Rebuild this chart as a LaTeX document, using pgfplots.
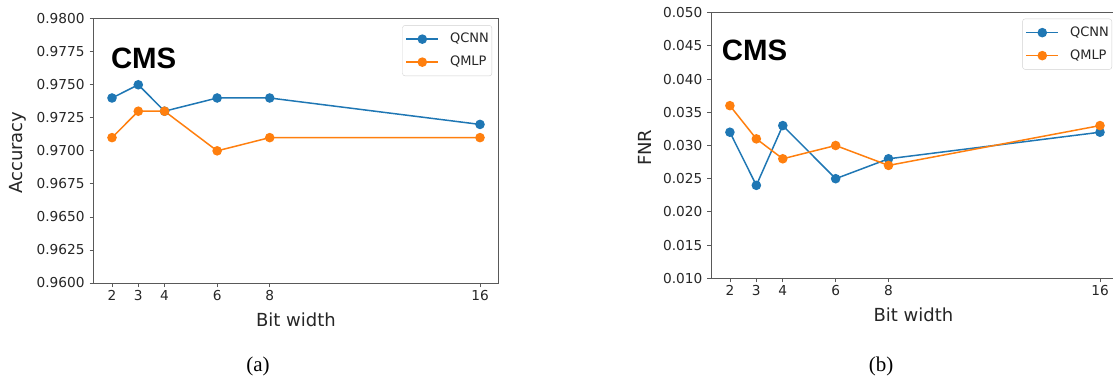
\documentclass[border=0pt]{standalone}
\usepackage{pgfplots}
\pgfplotsset{compat=1.18}
\usepackage{fontspec}
\setmainfont{DejaVu Sans}
\newfontfamily\capfont{Liberation Serif}
\newfontfamily\cmsfont{Liberation Sans}
\definecolor{qblue}{HTML}{1F77B4}
\definecolor{qorange}{HTML}{FF7F0E}
\pgfplotsset{
  myaxis/.style={
    scale only axis, anchor=south west,
    xmin=1.3, xmax=16.7,
    xtick={2,3,4,6,8,16},
    tick align=outside, tick pos=left,
    major tick length=4bp,
    axis line style={black!65, line width=0.8bp},
    every tick/.style={black!65, line width=0.8bp},
    ticklabel style={font=\fontsize{13.7bp}{16bp}\selectfont, text=black!85},
    yticklabel style={xshift=-1.5bp},
    /pgf/number format/assume math mode=true,
    label style={font=\fontsize{18bp}{21bp}\selectfont, text=black!85},
    legend cell align=left,
    legend style={draw=black!18, rounded corners=2.5bp, fill=white,
      font=\fontsize{13bp}{15bp}\selectfont, text=black!85,
      inner xsep=3bp, inner ysep=8bp, row sep=11.5bp, column sep=0bp,
      nodes={inner sep=0pt, text height=9.5bp, text depth=2bp},
      /tikz/every odd column/.append style={column sep=11bp}},
    legend image code/.code={\draw[line width=1.5bp, mark repeat=2,mark phase=2] plot coordinates {(0bp,0bp) (16bp,0bp) (32bp,0bp)};},
    every axis plot/.append style={line width=1.5bp, mark=*, mark size=4bp},
  }
}
\begin{document}
\begin{tikzpicture}
\useasboundingbox (0,0) rectangle (1113bp,381bp);
\clip (0,0) rectangle (1113bp,381bp);
% ---- (a) Accuracy
\begin{axis}[myaxis,
  at={(93.6bp,98bp)}, width=404.8bp, height=264.3bp,
  ymin=0.96, ymax=0.98,
  ytick={0.96,0.9625,0.965,0.9675,0.97,0.9725,0.975,0.9775,0.98},
  yticklabel style={/pgf/number format/.cd, fixed, fixed zerofill, precision=4},
  scaled y ticks=false,
  xlabel={Bit width}, ylabel={Accuracy},
  xlabel style={at={(rel axis cs:0.5,-0.1653)}, anchor=base},
  ylabel style={at={(rel axis cs:-0.188,0.493)}, anchor=center},
  legend style={at={(rel axis cs:1,1)}, anchor=north east, xshift=-6.4bp, yshift=-6.5bp},
]
\addplot[qblue, mark options={fill=qblue, draw=qblue}] coordinates {(2,0.974) (3,0.975) (4,0.973) (6,0.974) (8,0.974) (16,0.972)};
\addlegendentry{QCNN\hspace{7.5bp}}
\addplot[qorange, mark options={fill=qorange, draw=qorange}] coordinates {(2,0.971) (3,0.973) (4,0.973) (6,0.970) (8,0.971) (16,0.971)};
\addlegendentry{QMLP\hspace{7.5bp}}
\node[anchor=base west, inner sep=0, font=\cmsfont\bfseries\fontsize{29.4bp}{32bp}\selectfont] at (rel axis cs:0.0425,0.813) {CMS};
\end{axis}
% ---- (b) FNR
\begin{axis}[myaxis,
  at={(711.4bp,102.7bp)}, width=407.1bp, height=265.6bp,
  ymin=0.01, ymax=0.05,
  ytick={0.01,0.015,0.02,0.025,0.03,0.035,0.04,0.045,0.05},
  yticklabel style={/pgf/number format/.cd, fixed, fixed zerofill, precision=3},
  scaled y ticks=false,
  xlabel={Bit width}, ylabel={FNR},
  xlabel style={at={(rel axis cs:0.4964,-0.1634)}, anchor=base},
  ylabel style={at={(rel axis cs:-0.163,0.4916)}, anchor=center},
  legend style={at={(rel axis cs:1,1)}, anchor=north east, xshift=-6.5bp, yshift=-6bp},
]
\addplot[qblue, mark options={fill=qblue, draw=qblue}] coordinates {(2,0.032) (3,0.024) (4,0.033) (6,0.025) (8,0.028) (16,0.032)};
\addlegendentry{QCNN\hspace{7.5bp}}
\addplot[qorange, mark options={fill=qorange, draw=qorange}] coordinates {(2,0.036) (3,0.031) (4,0.028) (6,0.030) (8,0.027) (16,0.033)};
\addlegendentry{QMLP\hspace{7.5bp}}
\node[anchor=base west, inner sep=0, font=\cmsfont\bfseries\fontsize{29.4bp}{32bp}\selectfont] at (rel axis cs:0.0255,0.82) {CMS};
\end{axis}
\node[anchor=base, inner sep=0, font=\capfont\fontsize{21bp}{24bp}\selectfont] at (258bp,9.3bp) {(a)};
\node[anchor=base, inner sep=0, font=\capfont\fontsize{21bp}{24bp}\selectfont] at (881bp,10bp) {(b)};
\end{tikzpicture}
\end{document}
